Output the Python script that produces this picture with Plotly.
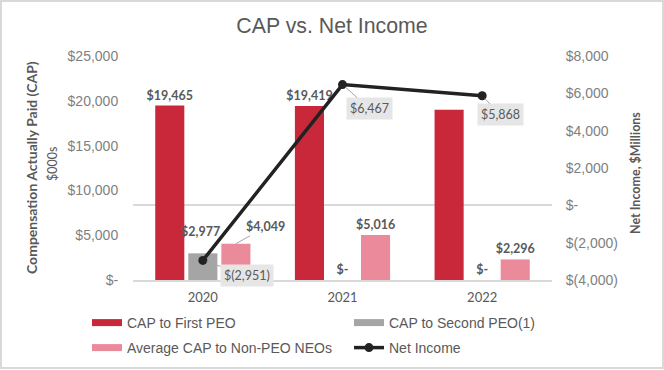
import plotly.graph_objects as go

# ---------------- data ----------------
years = ["2020", "2021", "2022"]
cap_first_peo = [19465, 19419, 19000]          # 2022 value unlabeled in source (estimated)
cap_first_peo_show = [True, True, False]
cap_second_peo = [2977, 0, 0]
cap_avg_neo = [4049, 5016, 2296]
net_income = [-2951, 6467, 5868]

left_tickvals = [0, 5000, 10000, 15000, 20000, 25000]
left_ticktext = ["$-", "$5,000", "$10,000", "$15,000", "$20,000", "$25,000"]
right_tickvals = [-4000, -2000, 0, 2000, 4000, 6000, 8000]
right_ticktext = ["$(4,000)", "$(2,000)", "$-", "$2,000", "$4,000", "$6,000", "$8,000"]

names = ["CAP to First PEO", "CAP to Second PEO(1)", "Average CAP to Non-PEO NEOs", "Net Income"]

# ---------------- style ----------------
RED = "#C8283A"
GRAY = "#A5A5A5"
PINK = "#EB8A9A"
LINE = "#222222"
TXT = "#595959"
TICK = "#7F7F7F"
LATO = "Lato, Calibri, sans-serif"
ARIAL = "Liberation Sans, Arial, sans-serif"

W, H = 664, 370
ML, MR, MT, MB = 133, 112, 56, 90
PW = W - ML - MR
PH = H - MT - MB


def fmt(v):
    if v == 0:
        return "$-"
    if v < 0:
        return "$({:,})".format(-v)
    return "${:,}".format(v)


def px_x(p):
    return (p - ML) / PW


def px_y(p):
    return (H - MB - p) / PH


BARGAP = 0.29
slot = (1 - BARGAP) * (PW / len(years)) / 3

fig = go.Figure()

first_text = [fmt(v) if s else "" for v, s in zip(cap_first_peo, cap_first_peo_show)]
second_text = ["" if i == 0 else fmt(v) for i, v in enumerate(cap_second_peo)]
neo_text = ["" if i == 0 else fmt(v) for i, v in enumerate(cap_avg_neo)]

label_font = dict(family=LATO, size=12.5, color=TXT, weight="bold")

for vals, txt, col, nm in [
    (cap_first_peo, first_text, RED, names[0]),
    (cap_second_peo, second_text, GRAY, names[1]),
    (cap_avg_neo, neo_text, PINK, names[2]),
]:
    fig.add_trace(go.Bar(
        x=years, y=vals, marker=dict(color=col, line=dict(width=0)), name=nm,
        text=txt, textposition="outside", textfont=label_font,
        constraintext="none", cliponaxis=False, showlegend=False,
        hoverinfo="skip",
    ))

fig.add_trace(go.Scatter(
    x=years, y=net_income, yaxis="y2", mode="lines+markers", name=names[3],
    line=dict(color=LINE, width=3.5), marker=dict(color=LINE, size=9),
    showlegend=False, cliponaxis=False,
))

# legend proxies
for col, nm, lg in [(RED, names[0], "legend"), (GRAY, names[1], "legend"), (PINK, names[2], "legend2")]:
    fig.add_trace(go.Scatter(x=[None], y=[None], mode="lines", name=nm,
                             line=dict(color=col, width=7), legend=lg))
fig.add_trace(go.Scatter(x=[None], y=[None], yaxis="y2", mode="lines+markers", name=names[3],
                         line=dict(color=LINE, width=3.5), marker=dict(color=LINE, size=9),
                         legend="legend2"))

annotations = []
# special bar labels (x given as category index)
annotations.append(dict(x=0, y=cap_second_peo[0], xref="x", yref="y", text=fmt(cap_second_peo[0]),
                        showarrow=False, xshift=-2, yshift=12, yanchor="bottom", font=label_font))
annotations.append(dict(x=0, y=cap_avg_neo[0], xref="x", yref="y", text=fmt(cap_avg_neo[0]),
                        showarrow=True, arrowhead=0, arrowwidth=1, arrowcolor="#A6A6A6",
                        ax=30, ay=-17, xshift=slot, standoff=0, font=label_font))
# net income labels
ni_off = [(44, 15), (27, 24), (18, 19)]
for i, (v, (ax, ay)) in enumerate(zip(net_income, ni_off)):
    annotations.append(dict(x=i, y=v, xref="x", yref="y2", text=fmt(v), showarrow=True,
                            arrowhead=0, arrowwidth=1, arrowcolor="#A6A6A6", ax=ax, ay=ay,
                            bgcolor="#E7E6E6", borderpad=3, standoff=4,
                            font=dict(family=LATO, size=12.5, color=TXT)))
# axis titles
annotations.append(dict(x=px_x(31), y=0.5, xref="paper", yref="paper", textangle=-90, showarrow=False,
                        xanchor="center", yanchor="middle",
                        text="<b>Compensation Actually Paid (CAP)</b>",
                        font=dict(family=LATO, size=14, color=TXT)))
annotations.append(dict(x=px_x(52), y=px_y(164), xref="paper", yref="paper", textangle=-90, showarrow=False,
                        xanchor="center", yanchor="middle",
                        text="$000s", font=dict(family=LATO, size=12.5, color=TXT)))
annotations.append(dict(x=px_x(635), y=px_y(173), xref="paper", yref="paper", textangle=-90, showarrow=False,
                        xanchor="center", yanchor="middle",
                        text="<b>Net Income, $Millions</b>", font=dict(family=LATO, size=12.5, color=TXT)))

fig.update_layout(
    width=W, height=H,
    margin=dict(l=ML, r=MR, t=MT, b=MB, autoexpand=False),
    paper_bgcolor="white", plot_bgcolor="white",
    barmode="group", bargap=BARGAP, bargroupgap=0.12,
    title=dict(text="CAP vs. Net Income", x=0.5, xanchor="center", xref="container",
               y=1 - 26 / H, yanchor="middle", yref="container",
               font=dict(family=ARIAL, size=21.3, color=TXT)),
    xaxis=dict(type="category", showline=True, linecolor="#D9D9D9", linewidth=1.5,
               ticks="outside", ticklen=5, tickcolor="rgba(0,0,0,0)",
               tickfont=dict(family=LATO, size=13, color=TXT), showgrid=False, zeroline=False),
    yaxis=dict(range=[0, 25000], tickvals=left_tickvals, ticktext=left_ticktext,
               showgrid=False, zeroline=False, showline=False,
               ticks="outside", ticklen=11, tickcolor="rgba(0,0,0,0)",
               tickfont=dict(family=ARIAL, size=14, color=TICK)),
    yaxis2=dict(range=[-4000, 8000], tickvals=right_tickvals, ticktext=right_ticktext,
                overlaying="y", side="right", showgrid=False,
                zeroline=True, zerolinecolor="#D9D9D9", zerolinewidth=1.5, showline=False,
                ticks="outside", ticklen=10, tickcolor="rgba(0,0,0,0)",
                tickfont=dict(family=ARIAL, size=14, color=TICK)),
    legend=dict(orientation="h", x=px_x(87), xanchor="left", y=px_y(323), yanchor="middle",
                entrywidth=217, entrywidthmode="pixels", traceorder="normal",
                font=dict(family=ARIAL, size=14, color=TXT), bgcolor="rgba(0,0,0,0)"),
    legend2=dict(orientation="h", x=px_x(87), xanchor="left", y=px_y(348), yanchor="middle",
                 entrywidth=217, entrywidthmode="pixels", traceorder="normal",
                 font=dict(family=ARIAL, size=14, color=TXT), bgcolor="rgba(0,0,0,0)"),
    annotations=annotations,
    shapes=[dict(type="rect", xref="paper", yref="paper",
                 x0=px_x(1), x1=px_x(663), y0=px_y(368), y1=px_y(1),
                 line=dict(color="#D9D9D9", width=2), fillcolor="rgba(0,0,0,0)", layer="below")],
    showlegend=True,
)

fig.write_html("out.html", config={"displayModeBar": False},
               post_script="document.body.style.margin='0';document.body.style.overflow='hidden';")
